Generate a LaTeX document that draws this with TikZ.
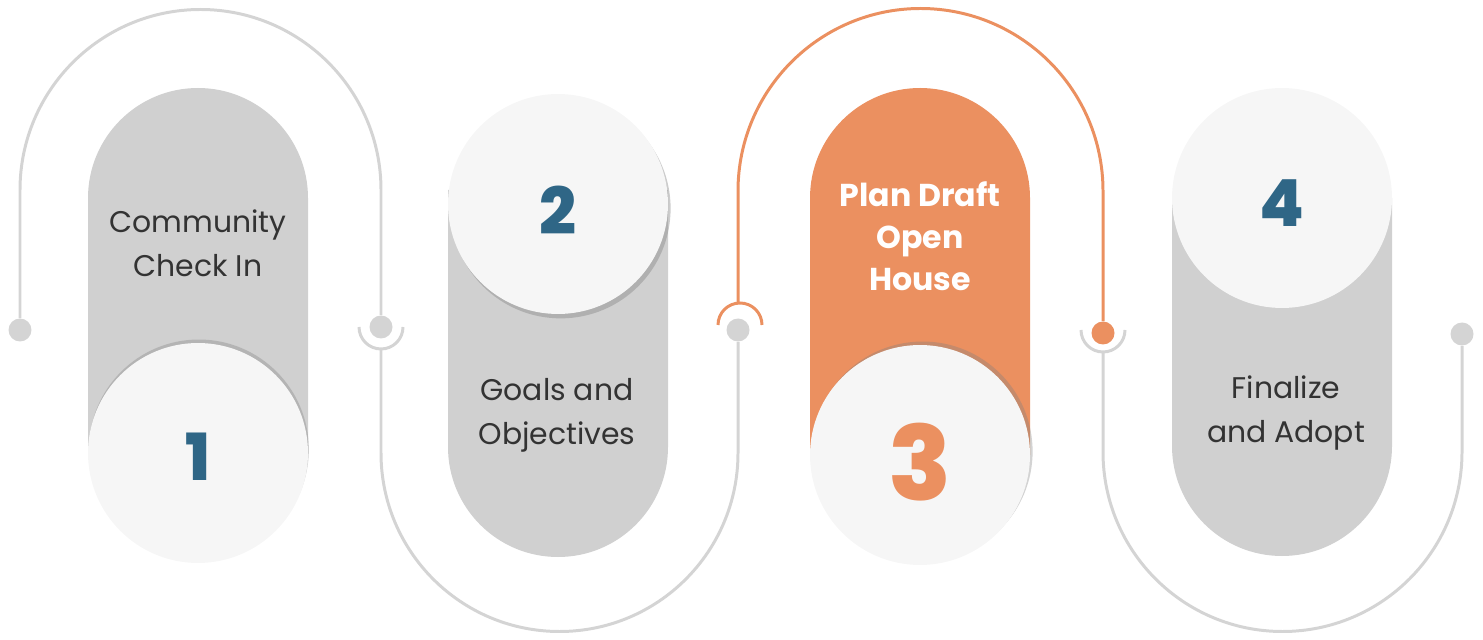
\documentclass[tikz,border=0pt]{standalone}
\usepackage{fontspec}
\setmainfont{Poppins}
\newfontfamily\numfont{Poppins ExtraBold}
\usetikzlibrary{shadows}
\definecolor{pillgray}{HTML}{D0D0D0}
\definecolor{linegray}{HTML}{D4D4D4}
\definecolor{discwhite}{HTML}{F6F6F6}
\definecolor{stepblue}{HTML}{2F6686}
\definecolor{steporange}{HTML}{EB9060}
\definecolor{textgray}{HTML}{333333}

\begin{document}
\begin{tikzpicture}[x=0.02cm, y=0.02cm,
    disc/.style={circle, fill=discwhite, minimum size=4.4cm, inner sep=0pt},
    num/.style={font=\fontsize{37}{37}\numfont},
    steptext/.style={align=center, text=textgray, font=\fontsize{17}{25}\selectfont},
    dot/.style={circle, fill=linegray, minimum size=0.46cm, inner sep=0pt},
    snake/.style={draw=linegray, line width=1.7pt}]
    \useasboundingbox (0,0) rectangle (1483,639);

    % pills
    \fill[pillgray] (88,186) -- (88,441) arc[start angle=180, end angle=0, radius=110] -- (308,186) -- cycle;
    \fill[pillgray] (448,449) -- (448,192) arc[start angle=180, end angle=360, radius=110] -- (668,449) -- cycle;
    \fill[steporange] (810,184) -- (810,441) arc[start angle=180, end angle=0, radius=110] -- (1030,184) -- cycle;
    \fill[pillgray] (1172,441) -- (1172,193) arc[start angle=180, end angle=360, radius=110] -- (1392,441) -- cycle;

    % discs
    \node[disc, drop shadow={shadow xshift=0.5pt, shadow yshift=2pt, opacity=0.35}] (c1) at (198,186) {};
    \node[disc, drop shadow={shadow xshift=1.5pt, shadow yshift=-2.5pt, opacity=0.4}] (c2) at (558,435) {};
    \node[disc, drop shadow={shadow xshift=1.5pt, shadow yshift=2pt, opacity=0.35}] (c3) at (920,184) {};
    \node[disc] (c4) at (1282,441) {};

    \node[num, text=stepblue] (n1) at ([yshift=-0.08cm]c1.center) {1};
    \node[num, text=stepblue] (n2) at ([yshift=-0.12cm]c2.center) {2};
    \node[num, text=steporange, font=\fontsize{59}{59}\numfont] (n3) at ([yshift=-0.14cm]c3.center) {3};
    \node[num, text=stepblue] (n4) at ([yshift=-0.1cm]c4.center) {4};

    \node[steptext] (t1) at (198,396) {Community\\Check In};
    \node[steptext] (t2) at (557,224) {Goals and\\Objectives};
    \node[steptext, text=white, font=\fontsize{18}{24}\selectfont\bfseries] (t3) at (920,403) {Plan Draft\\Open\\House};
    \node[steptext] (t4) at (1286,226) {Finalize\\and Adopt};

    % path with dots
    \node[dot] (d0) at (20,309) {};
    \node[dot] (d1) at (381,312) {};
    \node[dot] (d2) at (738,309) {};
    \node[dot, fill=steporange] (d3) at (1103,306) {};
    \node[dot] (d4) at (1462,305) {};

    \draw[snake] (d0) -- (20,449) arc[start angle=180, end angle=0, radius=180.5] -- (d1);
    \draw[snake] ([xshift=-0.44cm]d1.center) arc[start angle=180, end angle=360, radius=22];
    \draw[snake] ([yshift=-0.44cm]d1.center) -- (381,186) arc[start angle=180, end angle=360, radius=178.5] -- (d2);
    \draw[snake, draw=steporange] (718,314) arc[start angle=180, end angle=0, radius=22];
    \draw[snake, draw=steporange] (738,336) -- (738,448) arc[start angle=180, end angle=0, radius=182.5] -- (d3);
    \draw[snake] (1081,309) arc[start angle=180, end angle=360, radius=22];
    \draw[snake] (1103,287) -- (1103,187) arc[start angle=180, end angle=360, radius=179.5] -- (d4);
\end{tikzpicture}
\end{document}
